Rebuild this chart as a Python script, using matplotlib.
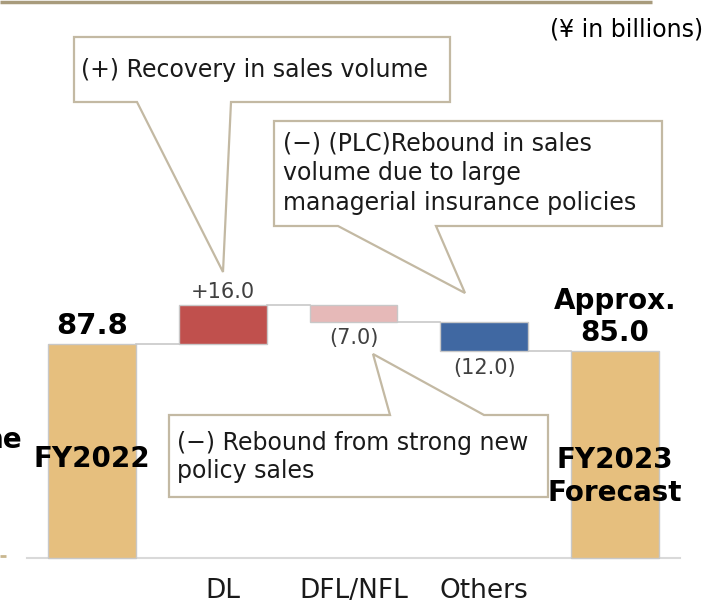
"""
Waterfall: FY2022 -> FY2023 forecast (¥ in billions), with callout boxes.
Saves out.png.
"""

import matplotlib
matplotlib.use("Agg")
import matplotlib.pyplot as plt
from matplotlib.patches import Polygon

# ── Data ──────────────────────────────────────────────────────────────────
steps = ["FY2022", "DL", "DFL/NFL", "Others", "FY2023\nForecast"]
start_value = 87.8
changes = [16.0, -7.0, -12.0]
end_value = 85.0
change_labels = ["+16.0", "(7.0)", "(12.0)"]
total_labels = ["87.8", "Approx.\n85.0"]
change_colors = ["#C0504D", "#E6B9B8", "#4068A2"]
total_color = "#E6BF7E"

notes = [
    "(+) Recovery in sales volume",
    "(\u2212) (PLC)Rebound in sales\nvolume due to large\nmanagerial insurance policies",
    "(\u2212) Rebound from strong new\npolicy sales",
]

W, H = 709, 603
EDGE = "#C8C8C8"
BOX_EDGE = "#C3B9A3"


def main():
    fig = plt.figure(figsize=(W / 100, H / 100), dpi=100)

    # bar axes: pixel layout -> bar centres at 92..615 px, baseline at 558 px
    ax = fig.add_axes([0, 0, 1, 1])
    px_x = 130.75
    px_y = 2.437
    x0, base = 92, 558
    ax.set_xlim(-x0 / px_x, (W - x0) / px_x)
    ax.set_ylim(-(H - base) / px_y, base / px_y)
    ax.axis("off")

    width = 0.67
    # totals
    ax.bar(0, start_value, width, color=total_color, edgecolor=EDGE, lw=1, zorder=3)
    ax.bar(4, end_value, width, color=total_color, edgecolor=EDGE, lw=1, zorder=3)

    # changes
    level = start_value
    levels = [level]
    for i, (c, col) in enumerate(zip(changes, change_colors), start=1):
        bottom = level if c > 0 else level + c
        ax.bar(i, abs(c), width, bottom=bottom, color=col, edgecolor=EDGE,
               lw=1, zorder=3)
        level += c
        levels.append(level)

    # connectors
    for i, lv in enumerate(levels):
        ax.plot([i + width / 2, i + 1 - width / 2], [lv, lv],
                color=EDGE, lw=1.2, zorder=2)

    # baseline
    ax.plot([-0.5, 4.5], [0, 0], color="#D9D9D9", lw=1.5, zorder=2)

    # change labels
    prev = start_value
    for i, (c, lab) in enumerate(zip(changes, change_labels), start=1):
        if c > 0:
            ax.text(i, prev + c + 1.2, lab, ha="center", va="bottom",
                    fontsize=15, color="#404040")
        else:
            ax.text(i, prev + c - 2.6, lab, ha="center", va="top",
                    fontsize=15, color="#404040")
        prev += c

    # totals labels
    ax.text(0, start_value + 1.5, total_labels[0], ha="center", va="bottom",
            fontsize=21, fontweight="bold", color="black", zorder=5)
    ax.text(4, end_value + 1.5, total_labels[1], ha="center", va="bottom",
            fontsize=20, fontweight="bold", color="black", linespacing=1.2,
            zorder=5)
    ax.text(0, 40.5, steps[0], ha="center", va="center", fontsize=20,
            fontweight="bold", color="black", zorder=5)
    ax.text(4, 33.5, steps[4], ha="center", va="center", fontsize=20,
            fontweight="bold", color="black", linespacing=1.2, zorder=5)

    # category labels below the baseline
    for i in range(1, 4):
        ax.text(i, -13.7, steps[i], ha="center", va="center",
                fontsize=19, color="#1A1A1A")

    # ── overlay in pixel coords: frame bits and callouts ──────────────────
    ov = fig.add_axes([0, 0, 1, 1], zorder=10)
    ov.set_xlim(0, W)
    ov.set_ylim(H, 0)
    ov.axis("off")
    ov.patch.set_alpha(0)

    ov.plot([0, 652], [1.5, 1.5], color="#A89B7C", lw=2.5, solid_capstyle="butt")
    ov.plot([0, 6], [556, 556], color="#C9B78F", lw=2, solid_capstyle="butt")
    ov.text(22, 440, "ne", ha="right", va="center", fontsize=20,
            fontweight="bold", color="black")
    ov.text(703, 30, "(\u00a5 in billions)", ha="right", va="center",
            fontsize=17, color="black")

    def callout(l, t, r, b, side, p1, tip, p2):
        if side == "bottom":
            pts = [(l, t), (r, t), (r, b), (p2, b), tip, (p1, b), (l, b)]
        else:
            pts = [(l, t), (p1, t), tip, (p2, t), (r, t), (r, b), (l, b)]
        ov.add_patch(Polygon(pts, closed=True, facecolor="white",
                             edgecolor=BOX_EDGE, lw=1.6, joinstyle="miter"))

    callout(74, 37, 450, 102, "bottom", 137, (223, 272), 231)
    ov.text(81, 70, notes[0], ha="left", va="center", fontsize=17, color="#1A1A1A")

    callout(274, 121, 662, 226, "bottom", 338, (465, 293), 436)
    ov.text(283, 173, notes[1], ha="left", va="center", fontsize=17,
            color="#1A1A1A", linespacing=1.3)

    callout(169, 415, 548, 497, "top", 390, (373, 354), 484)
    ov.text(177, 457, notes[2], ha="left", va="center", fontsize=17,
            color="#1A1A1A", linespacing=1.2)

    fig.savefig("out.png", dpi=100)
    plt.close(fig)


if __name__ == "__main__":
    main()
